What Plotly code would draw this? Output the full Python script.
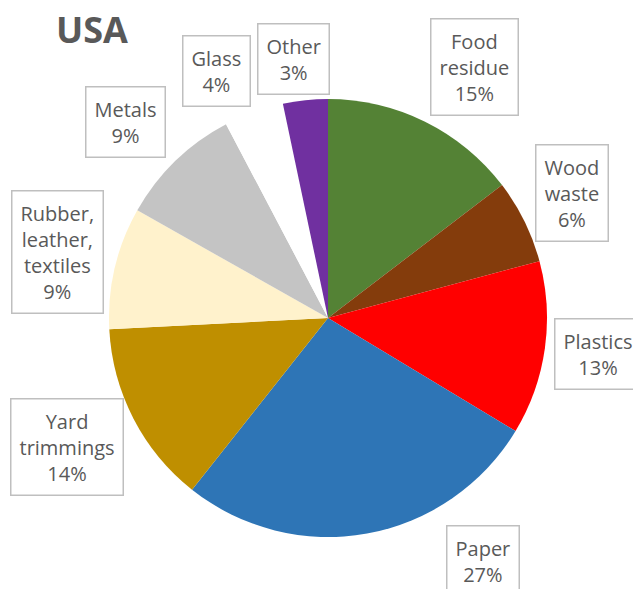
import plotly.graph_objects as go

categories = ["Food residue", "Wood waste", "Plastics", "Paper", "Yard trimmings",
              "Rubber, leather, textiles", "Metals", "Glass", "Other"]
values = [14.6, 6.2, 12.8, 27.0, 13.5, 9.0, 9.1, 4.4, 3.3]
label_texts = ["Food<br>residue<br>15%", "Wood<br>waste<br>6%", "Plastics<br>13%",
               "Paper<br>27%", "Yard<br>trimmings<br>14%",
               "Rubber,<br>leather,<br>textiles<br>9%", "Metals<br>9%", "Glass<br>4%",
               "Other<br>3%"]
colors = ["#548235", "#843C0C", "#FF0000", "#2E75B6", "#BF8F00",
          "#FFF2CC", "#C4C4C4", "#FFFFFF", "#7030A0"]

W, H = 633, 589
# label box centres (pixels)
label_pos = [(474, 67), (572, 193), (598, 354), (483, 561), (67, 447),
             (57, 252), (125, 122), (216, 71), (293, 59)]

cx, cy, r = 328, 318, 219

fig = go.Figure(go.Pie(
    labels=categories, values=values, sort=False, direction="clockwise",
    rotation=0, marker=dict(colors=colors, line=dict(width=0)),
    textinfo="none", hoverinfo="label+percent", showlegend=False,
    domain=dict(x=[(cx - r) / W, (cx + r) / W],
                y=[(H - cy - r) / H, (H - cy + r) / H]),
))

for txt, (px, py) in zip(label_texts, label_pos):
    fig.add_annotation(
        x=px / W, y=1 - py / H, xref="paper", yref="paper",
        text=txt, showarrow=False, xanchor="center", yanchor="middle",
        font=dict(family="Open Sans", size=20, color="#595959"),
        bordercolor="#BFBFBF", borderwidth=1.5, borderpad=8, bgcolor="white",
        align="center",
    )

fig.add_annotation(
    x=54 / W, y=1 - 29 / H, xref="paper", yref="paper", text="<b>USA</b>",
    showarrow=False, xanchor="left", yanchor="middle",
    font=dict(family="Open Sans", size=36, color="#595959"),
)

fig.update_layout(width=W, height=H, margin=dict(l=0, r=0, t=0, b=0),
                  paper_bgcolor="white", plot_bgcolor="white")
fig.write_html("out.html", config={"displayModeBar": False},
               post_script="document.body.style.margin='0';document.body.style.overflow='hidden';")
